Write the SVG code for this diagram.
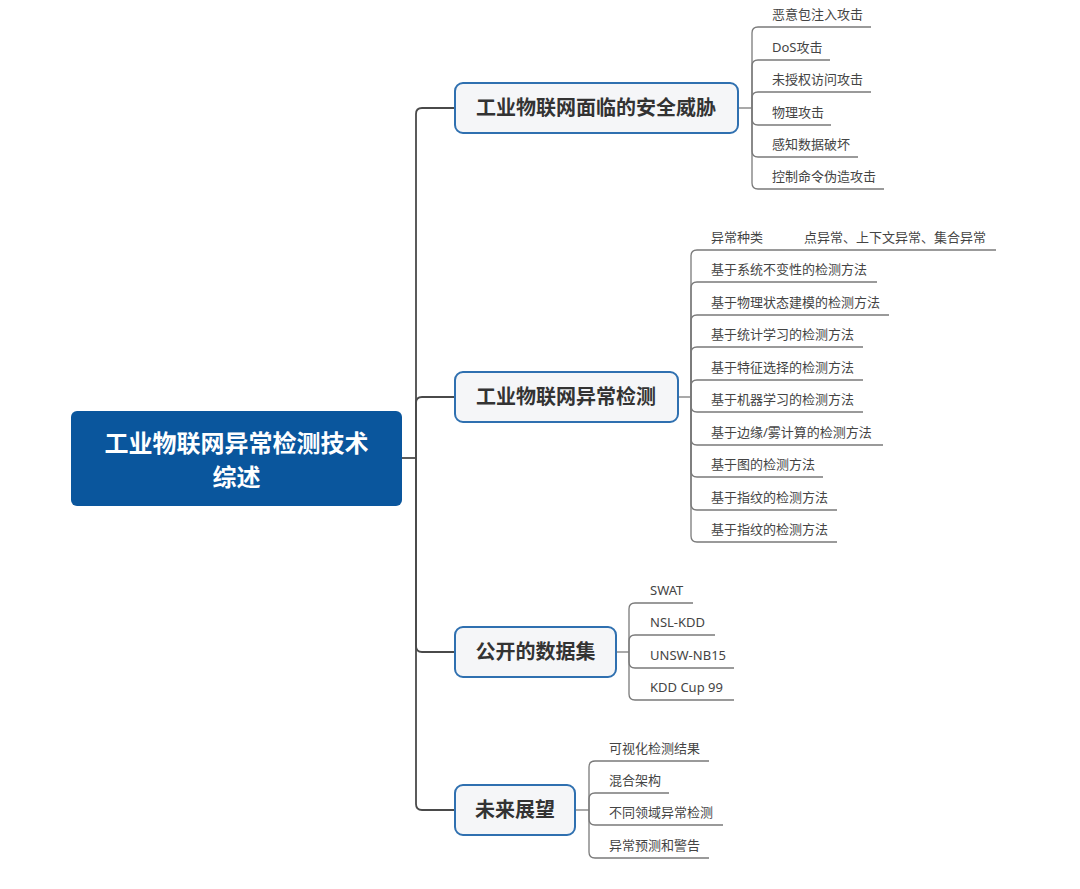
<svg xmlns="http://www.w3.org/2000/svg" width="1080" height="889" viewBox="0 0 1080 889">
<style>
.bg{fill:#ffffff}
.trunk{fill:none;stroke:#4a4a4a;stroke-width:1.8}
.sub{fill:none;stroke:#7a7a7a;stroke-width:1.3}
.root{fill:#0a569d}
.rootText{font-family:"Noto Sans CJK SC",sans-serif;font-size:24px;font-weight:bold;fill:#ffffff;text-anchor:middle}
.box{fill:#f5f6f8;stroke:#2f70b0;stroke-width:2}
.boxText{font-family:"Noto Sans CJK SC",sans-serif;font-size:20px;font-weight:bold;fill:#333333;text-anchor:middle}
.leaf{font-family:"Noto Sans","Noto Sans CJK SC",sans-serif;font-size:13px;fill:#444444}
</style>
<rect class="bg" x="0" y="0" width="1080" height="889"/>
<g id="connectors">
  <path class="trunk" d="M402 458 H416"/>
  <path class="trunk" d="M416 458 V114 Q416 108 422 108 H454"/>
  <path class="trunk" d="M416 458 V403 Q416 397 422 397 H454"/>
  <path class="trunk" d="M416 458 V646 Q416 652 422 652 H454"/>
  <path class="trunk" d="M416 458 V804 Q416 810 422 810 H454"/>
  <path class="sub" d="M738 108 H752"/>
  <path class="sub" d="M752 108 V33 Q752 27 758 27 H871"/>
  <path class="sub" d="M752 108 V66 Q752 60 758 60 H830"/>
  <path class="sub" d="M752 108 V98 Q752 92 758 92 H871"/>
  <path class="sub" d="M752 108 V119 Q752 125 758 125 H831"/>
  <path class="sub" d="M752 108 V151 Q752 157 758 157 H858"/>
  <path class="sub" d="M752 108 V183 Q752 189 758 189 H884"/>
  <path class="sub" d="M678 397 H691"/>
  <path class="sub" d="M691 397 V256 Q691 250 697 250 H785"/>
  <path class="sub" d="M785 250 H996"/>
  <path class="sub" d="M691 397 V288 Q691 282 697 282 H877"/>
  <path class="sub" d="M691 397 V321 Q691 315 697 315 H889"/>
  <path class="sub" d="M691 397 V353 Q691 347 697 347 H863"/>
  <path class="sub" d="M691 397 V386 Q691 380 697 380 H863"/>
  <path class="sub" d="M691 397 V406 Q691 412 697 412 H863"/>
  <path class="sub" d="M691 397 V439 Q691 445 697 445 H883"/>
  <path class="sub" d="M691 397 V471 Q691 477 697 477 H823"/>
  <path class="sub" d="M691 397 V504 Q691 510 697 510 H837"/>
  <path class="sub" d="M691 397 V536 Q691 542 697 542 H837"/>
  <path class="sub" d="M616 652 H629"/>
  <path class="sub" d="M629 652 V609 Q629 603 635 603 H693"/>
  <path class="sub" d="M629 652 V641 Q629 635 635 635 H715"/>
  <path class="sub" d="M629 652 V662 Q629 668 635 668 H734"/>
  <path class="sub" d="M629 652 V694 Q629 700 635 700 H734"/>
  <path class="sub" d="M575 810 H589"/>
  <path class="sub" d="M589 810 V767 Q589 761 595 761 H709"/>
  <path class="sub" d="M589 810 V799 Q589 793 595 793 H669"/>
  <path class="sub" d="M589 810 V819 Q589 825 595 825 H723"/>
  <path class="sub" d="M589 810 V852 Q589 858 595 858 H709"/>
</g>
<g id="root">
  <rect class="root" x="71" y="411" width="331" height="95" rx="6"/>
  <text class="rootText" x="236.5" y="452">工业物联网异常检测技术</text>
  <text class="rootText" x="236.5" y="486">综述</text>
</g>
<g id="branch-threats">
  <rect class="box" x="455" y="83" width="283" height="50" rx="8"/>
  <text class="boxText" x="596" y="115">工业物联网面临的安全威胁</text>
</g>
<g id="threat-leaves">
  <text class="leaf" x="772" y="19">恶意包注入攻击</text>
  <text class="leaf" x="772" y="52">DoS攻击</text>
  <text class="leaf" x="772" y="84">未授权访问攻击</text>
  <text class="leaf" x="772" y="117">物理攻击</text>
  <text class="leaf" x="772" y="149">感知数据破坏</text>
  <text class="leaf" x="772" y="181">控制命令伪造攻击</text>
</g>
<g id="branch-detection">
  <rect class="box" x="455" y="372" width="223" height="50" rx="8"/>
  <text class="boxText" x="566" y="404">工业物联网异常检测</text>
</g>
<g id="detection-leaves">
  <text class="leaf" x="711" y="242">异常种类</text>
  <text class="leaf" x="804" y="242">点异常、上下文异常、集合异常</text>
  <text class="leaf" x="711" y="274">基于系统不变性的检测方法</text>
  <text class="leaf" x="711" y="307">基于物理状态建模的检测方法</text>
  <text class="leaf" x="711" y="339">基于统计学习的检测方法</text>
  <text class="leaf" x="711" y="372">基于特征选择的检测方法</text>
  <text class="leaf" x="711" y="404">基于机器学习的检测方法</text>
  <text class="leaf" x="711" y="437">基于边缘/雾计算的检测方法</text>
  <text class="leaf" x="711" y="469">基于图的检测方法</text>
  <text class="leaf" x="711" y="502">基于指纹的检测方法</text>
  <text class="leaf" x="711" y="534">基于指纹的检测方法</text>
</g>
<g id="branch-datasets">
  <rect class="box" x="455" y="627" width="161" height="50" rx="8"/>
  <text class="boxText" x="535.5" y="659">公开的数据集</text>
</g>
<g id="dataset-leaves">
  <text class="leaf" x="650" y="595">SWAT</text>
  <text class="leaf" x="650" y="627">NSL-KDD</text>
  <text class="leaf" x="650" y="660">UNSW-NB15</text>
  <text class="leaf" x="650" y="692">KDD Cup 99</text>
</g>
<g id="branch-future">
  <rect class="box" x="455" y="785" width="120" height="50" rx="8"/>
  <text class="boxText" x="515" y="817">未来展望</text>
</g>
<g id="future-leaves">
  <text class="leaf" x="609" y="753">可视化检测结果</text>
  <text class="leaf" x="609" y="785">混合架构</text>
  <text class="leaf" x="609" y="817">不同领域异常检测</text>
  <text class="leaf" x="609" y="850">异常预测和警告</text>
</g>
</svg>
